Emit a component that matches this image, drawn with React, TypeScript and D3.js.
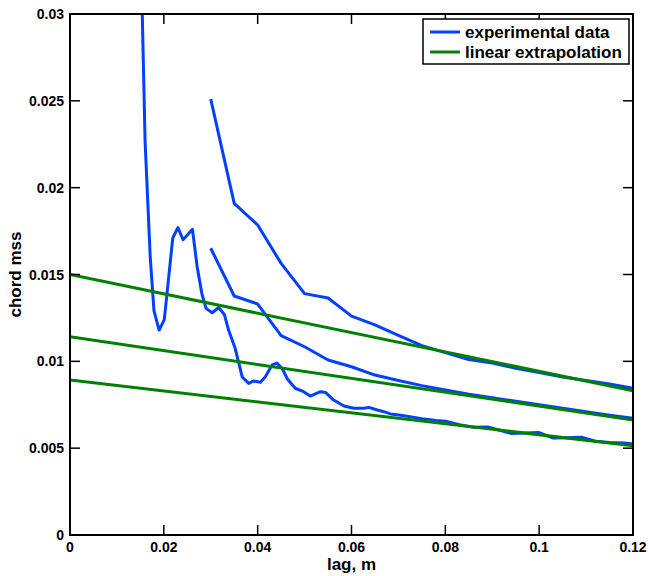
import React from "react";
import * as d3 from "d3";

const xTicks = [0, 0.02, 0.04, 0.06, 0.08, 0.1, 0.12];
const yTicks = [0, 0.005, 0.01, 0.015, 0.02, 0.025, 0.03];
const xTickLabels = ["0", "0.02", "0.04", "0.06", "0.08", "0.1", "0.12"];
const yTickLabels = ["0", "0.005", "0.01", "0.015", "0.02", "0.025", "0.03"];

const curveAX = [0.030, 0.035, 0.040, 0.045, 0.050, 0.055, 0.060, 0.065, 0.070, 0.075, 0.080, 0.085, 0.090, 0.095, 0.100, 0.105, 0.110, 0.115, 0.120];
const curveAY = [0.0251, 0.0191, 0.01785, 0.01564, 0.0139, 0.01365, 0.0126, 0.0121, 0.0115, 0.0109, 0.0105, 0.0101, 0.0099, 0.0096, 0.00935, 0.0091, 0.0089, 0.0087, 0.00845];

const curveBX = [0.030, 0.035, 0.040, 0.045, 0.050, 0.055, 0.060, 0.065, 0.070, 0.075, 0.080, 0.085, 0.090, 0.095, 0.100, 0.105, 0.110, 0.115, 0.120];
const curveBY = [0.01651, 0.01376, 0.0133, 0.01148, 0.01084, 0.01008, 0.00969, 0.00921, 0.0089, 0.0086, 0.00835, 0.0081, 0.0079, 0.0077, 0.0075, 0.0073, 0.0071, 0.0069, 0.00672];

const curveCX = [0.0152, 0.016, 0.0171, 0.0179, 0.019, 0.0201, 0.0219, 0.023, 0.0241, 0.0261, 0.0271, 0.0281, 0.029, 0.0303, 0.0317, 0.0329, 0.0338, 0.0352, 0.0367, 0.0381, 0.0391, 0.0406, 0.0416, 0.0431, 0.0441, 0.0452, 0.0463, 0.048, 0.0498, 0.0512, 0.0534, 0.0545, 0.0562, 0.0584, 0.0605, 0.0626, 0.0637, 0.0655, 0.0669, 0.0683, 0.0705, 0.075, 0.078, 0.08, 0.083, 0.086, 0.089, 0.092, 0.094, 0.097, 0.1, 0.103, 0.106, 0.109, 0.112, 0.115, 0.118, 0.12];
const curveCY = [0.0325, 0.0227, 0.016, 0.0129, 0.0118, 0.0124, 0.0171, 0.0177, 0.017, 0.0176, 0.01545, 0.0139, 0.01305, 0.0128, 0.0131, 0.0127, 0.0118, 0.01075, 0.0091, 0.00873, 0.00887, 0.0088, 0.0091, 0.0098, 0.0099, 0.0096, 0.009, 0.00845, 0.00825, 0.008, 0.00825, 0.0082, 0.00777, 0.00743, 0.0073, 0.0073, 0.00735, 0.0072, 0.0071, 0.00697, 0.0069, 0.0067, 0.0066, 0.00655, 0.00635, 0.0062, 0.00622, 0.006, 0.00585, 0.00588, 0.0059, 0.00558, 0.0056, 0.00563, 0.0054, 0.00532, 0.0053, 0.00524];

const extrapX = [0, 0.12];
const extrap1Y = [0.0150, 0.00831];
const extrap2Y = [0.01142, 0.00662];
const extrap3Y = [0.00893, 0.00514];

const legendLabels = ["experimental data", "linear extrapolation"];

const BLUE = "#0040ff";
const GREEN = "#008000";
const FONT = "'Liberation Sans', Arial, Helvetica, sans-serif";

export default function App() {
  const W = 649, H = 576;
  const left = 70, right = 633, top = 14, bottom = 535;
  const x = d3.scaleLinear().domain([0, 0.12]).range([left, right]);
  const y = d3.scaleLinear().domain([0, 0.03]).range([bottom, top]);
  const line = d3.line<[number, number]>().x(d => x(d[0])).y(d => y(d[1]));
  const mk = (xs: number[], ys: number[]) => xs.map((v, i) => [v, ys[i]] as [number, number]);
  const blues = [mk(curveAX, curveAY), mk(curveBX, curveBY), mk(curveCX, curveCY)];
  const greens = [mk(extrapX, extrap1Y), mk(extrapX, extrap2Y), mk(extrapX, extrap3Y)];
  const tickLen = 10;

  return (
    <svg width={W} height={H} style={{ position: "absolute", left: 0, top: 0, background: "#fff" }} fontFamily={FONT} fontWeight="bold">
      <defs>
        <clipPath id="plotclip">
          <rect x={left} y={top} width={right - left} height={bottom - top} />
        </clipPath>
      </defs>
      <rect x={0} y={0} width={W} height={H} fill="#fff" />
      <g clipPath="url(#plotclip)" fill="none" strokeLinejoin="round">
        {blues.map((d, i) => (
          <path key={"b" + i} d={line(d) || ""} stroke={BLUE} strokeWidth={3} />
        ))}
        {greens.map((d, i) => (
          <path key={"g" + i} d={line(d) || ""} stroke={GREEN} strokeWidth={3} />
        ))}
      </g>
      <rect x={left} y={top} width={right - left} height={bottom - top} fill="none" stroke="#000" strokeWidth={2} />
      {xTicks.map((t, i) => (
        <g key={"xt" + i}>
          <line x1={x(t)} x2={x(t)} y1={bottom} y2={bottom - tickLen} stroke="#000" strokeWidth={1.5} />
          <line x1={x(t)} x2={x(t)} y1={top} y2={top + tickLen} stroke="#000" strokeWidth={1.5} />
          <text x={x(t)} y={552} textAnchor="middle" fontSize={14}>{xTickLabels[i]}</text>
        </g>
      ))}
      {yTicks.map((t, i) => (
        <g key={"yt" + i}>
          <line x1={left} x2={left + tickLen} y1={y(t)} y2={y(t)} stroke="#000" strokeWidth={1.5} />
          <line x1={right} x2={right - tickLen} y1={y(t)} y2={y(t)} stroke="#000" strokeWidth={1.5} />
          <text x={64} y={y(t) + 5} textAnchor="end" fontSize={14}>{yTickLabels[i]}</text>
        </g>
      ))}
      <text x={(left + right) / 2} y={570} textAnchor="middle" fontSize={17}>lag, m</text>
      <text transform={`translate(21, ${(top + bottom) / 2}) rotate(-90)`} textAnchor="middle" fontSize={17}>chord mss</text>
      <g>
        <rect x={423} y={19} width={206} height={45} fill="#fff" stroke="#000" strokeWidth={1.5} />
        <line x1={430} x2={460} y1={32} y2={32} stroke={BLUE} strokeWidth={3} />
        <line x1={430} x2={460} y1={52} y2={52} stroke={GREEN} strokeWidth={3} />
        <text x={465} y={38} fontSize={17}>{legendLabels[0]}</text>
        <text x={465} y={58} fontSize={17}>{legendLabels[1]}</text>
      </g>
    </svg>
  );
}
